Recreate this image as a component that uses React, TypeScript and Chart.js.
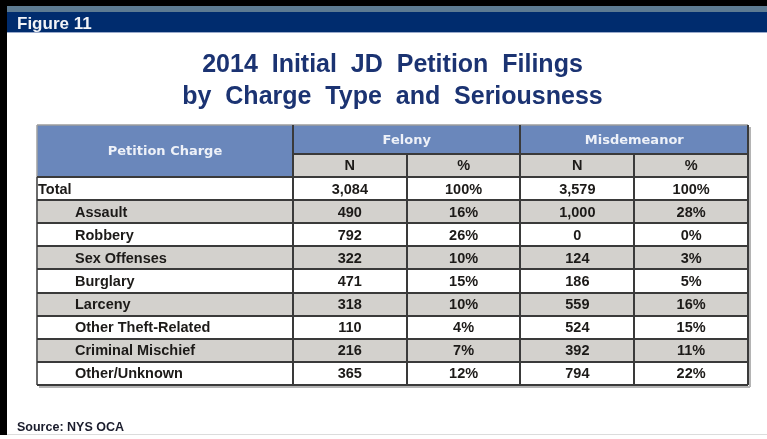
import React, { useEffect, useRef } from 'react';
import { Chart, registerables } from 'chart.js';

Chart.register(...registerables);

// ---------- content ----------
const figureLabel = 'Figure 11';
const titleLines = ['2014  Initial  JD  Petition  Filings', 'by  Charge  Type  and  Seriousness'];
const sourceText = 'Source: NYS OCA';
const stubHeader = 'Petition Charge';
const groupLabels = ['Felony', 'Misdemeanor'];
const subLabels = ['N', '%'];
const categories = [
  'Total',
  'Assault',
  'Robbery',
  'Sex Offenses',
  'Burglary',
  'Larceny',
  'Other Theft-Related',
  'Criminal Mischief',
  'Other/Unknown',
];
const felonyN = [3084, 490, 792, 322, 471, 318, 110, 216, 365];
const felonyPct = [100, 16, 26, 10, 15, 10, 4, 7, 12];
const misdN = [3579, 1000, 0, 124, 186, 559, 524, 392, 794];
const misdPct = [100, 28, 0, 3, 5, 16, 15, 11, 22];

// ---------- layout (in scale units) ----------
const STUB_W = 2.25; // label column width, in data-column units
const HEAD1_H = 1.25; // first header row height, in row units
const COLS = 4;

// ---------- styles ----------
const NAVY = '#002c6e';
const HEADER_BLUE = '#6a87bb';
const ROW_GRAY = '#d3d1cd';
const LINE = '#3a3a3a';
const TEXT = '#1c1a18';
const CELL_FONT = 'bold 14.5px "Liberation Sans", Arial, sans-serif';
const HEAD_FONT = 'bold 13px "DejaVu Sans", sans-serif';

const fmtN = (v: number) => v.toLocaleString('en-US');
const fmtP = (v: number) => `${v}%`;

const framePlugin = {
  id: 'frame',
  beforeDraw(chart: any) {
    const { ctx, width, height } = chart;
    ctx.save();
    ctx.fillStyle = '#ffffff';
    ctx.fillRect(0, 0, width, height);
    // top bands
    ctx.fillStyle = '#000000';
    ctx.fillRect(0, 0, width, 6);
    ctx.fillStyle = '#5d7b92';
    ctx.fillRect(0, 6, width, 6);
    ctx.fillStyle = NAVY;
    ctx.fillRect(0, 12, width, 20);
    ctx.fillStyle = '#9aaacb';
    ctx.fillRect(0, 32, width, 1);
    // left black bar
    ctx.fillStyle = '#000000';
    ctx.fillRect(0, 0, 7, 435);
    // bottom light rule
    ctx.fillStyle = '#dcdcdc';
    ctx.fillRect(7, 434, width - 7, 1);
    // figure label
    ctx.fillStyle = '#f2f4f8';
    ctx.font = 'bold 17px "Liberation Sans", Arial, sans-serif';
    ctx.textAlign = 'left';
    ctx.textBaseline = 'alphabetic';
    ctx.fillText(figureLabel, 17, 29);
    // source
    ctx.fillStyle = '#1a1c2c';
    ctx.font = 'bold 12.5px "Liberation Sans", Arial, sans-serif';
    ctx.fillText(sourceText, 17, 431);
    ctx.restore();
  },
};

const tablePlugin = {
  id: 'table',
  afterDraw(chart: any) {
    const { ctx } = chart;
    const xs = chart.scales.x;
    const ys = chart.scales.y;
    const X = (u: number) => xs.getPixelForValue(u);
    const Y = (u: number) => ys.getPixelForValue(u);
    const colB = [0, STUB_W];
    for (let i = 1; i <= COLS; i++) colB.push(STUB_W + i);
    const rowB = [0, HEAD1_H, HEAD1_H + 1];
    categories.forEach((_, i) => rowB.push(HEAD1_H + 2 + i));
    const right = colB[colB.length - 1];
    const bottom = rowB[rowB.length - 1];

    const rect = (x0: number, y0: number, x1: number, y1: number, c: string) => {
      ctx.fillStyle = c;
      ctx.fillRect(X(x0), Y(y0), X(x1) - X(x0), Y(y1) - Y(y0));
    };
    const line = (x0: number, y0: number, x1: number, y1: number, c: string, w: number, dx = 0, dy = 0) => {
      ctx.strokeStyle = c;
      ctx.lineWidth = w;
      ctx.beginPath();
      ctx.moveTo(Math.round(X(x0)) + dx, Math.round(Y(y0)) + dy);
      ctx.lineTo(Math.round(X(x1)) + dx, Math.round(Y(y1)) + dy);
      ctx.stroke();
    };

    ctx.save();
    // fills
    rect(0, 0, STUB_W, rowB[2], HEADER_BLUE);
    rect(STUB_W, 0, right, HEAD1_H, HEADER_BLUE);
    rect(STUB_W, HEAD1_H, right, rowB[2], ROW_GRAY);
    categories.forEach((_, i) => {
      rect(0, rowB[2 + i], right, rowB[3 + i], i % 2 === 0 ? '#ffffff' : ROW_GRAY);
    });

    // shadow (right/bottom)
    line(right, 0, right, bottom, '#b4b4b4', 2, 2, 2);
    line(0, bottom, right, bottom, '#b4b4b4', 2, 2, 2);

    // outer top/left (light)
    line(0, 0, right, 0, '#9c9c9c', 1.5);
    line(0, 0, 0, rowB[2], '#a0a0a0', 1.5);
    line(0, rowB[2], 0, bottom, '#6a6a6a', 2);

    // internal lines
    line(STUB_W, 0, STUB_W, bottom, LINE, 2);
    line(STUB_W + 2, 0, STUB_W + 2, bottom, LINE, 2);
    line(STUB_W + 1, HEAD1_H, STUB_W + 1, bottom, LINE, 2);
    line(STUB_W + 3, HEAD1_H, STUB_W + 3, bottom, LINE, 2);
    line(STUB_W, HEAD1_H, right, HEAD1_H, LINE, 2);
    for (let r = 2; r < rowB.length - 1; r++) line(0, rowB[r], right, rowB[r], LINE, 2);
    // outer right/bottom (dark)
    line(right, 0, right, bottom, LINE, 2);
    line(0, bottom, right, bottom, LINE, 2);

    // header text
    ctx.textAlign = 'center';
    ctx.textBaseline = 'middle';
    ctx.font = HEAD_FONT;
    ctx.fillStyle = '#eef1f8';
    ctx.fillText(stubHeader, X(STUB_W / 2), Y(rowB[2] / 2) + 1);
    groupLabels.forEach((g, i) => {
      ctx.fillText(g, X(STUB_W + i * 2 + 1), Y(HEAD1_H / 2) + 1);
    });
    ctx.fillStyle = TEXT;
    ctx.font = CELL_FONT;
    for (let c = 0; c < COLS; c++) {
      ctx.fillText(subLabels[c % 2], X(STUB_W + c + 0.5), Y((rowB[1] + rowB[2]) / 2) + 1);
    }

    // body text
    const cols = [felonyN.map(fmtN), felonyPct.map(fmtP), misdN.map(fmtN), misdPct.map(fmtP)];
    categories.forEach((cat, i) => {
      const yc = Y((rowB[2 + i] + rowB[3 + i]) / 2) + 1;
      ctx.textAlign = 'left';
      ctx.fillText(cat, i === 0 ? X(0) + 1 : X(0) + 38, yc);
      ctx.textAlign = 'center';
      cols.forEach((vals, c) => ctx.fillText(vals[i], X(STUB_W + c + 0.5), yc));
    });
    ctx.restore();
  },
};

export default function App() {
  const ref = useRef<HTMLCanvasElement | null>(null);
  useEffect(() => {
    document.body.style.margin = '0';
    if (!ref.current) return;
    const chart = new Chart(ref.current, {
      type: 'scatter',
      data: { datasets: [] },
      options: {
        responsive: false,
        animation: false,
        events: [],
        devicePixelRatio: 1,
        layout: { padding: { left: 37, right: 19, top: 33, bottom: 54 } },
        scales: {
          x: { type: 'linear', min: 0, max: STUB_W + COLS, display: false },
          y: { type: 'linear', min: 0, max: HEAD1_H + 1 + categories.length, reverse: true, display: false },
        },
        plugins: {
          legend: { display: false },
          tooltip: { enabled: false },
          title: {
            display: true,
            text: titleLines,
            color: '#1b3372',
            font: { family: '"Liberation Sans", Arial, sans-serif', size: 25, weight: 'bold', lineHeight: 1.28 },
            padding: { top: 16, bottom: 12 },
          },
        },
      },
      plugins: [framePlugin, tablePlugin],
    } as any);
    return () => chart.destroy();
  }, []);
  return (
    <div style={{ width: 767, height: 439 }}>
      <canvas ref={ref} width={767} height={439} style={{ display: 'block' }} />
    </div>
  );
}
